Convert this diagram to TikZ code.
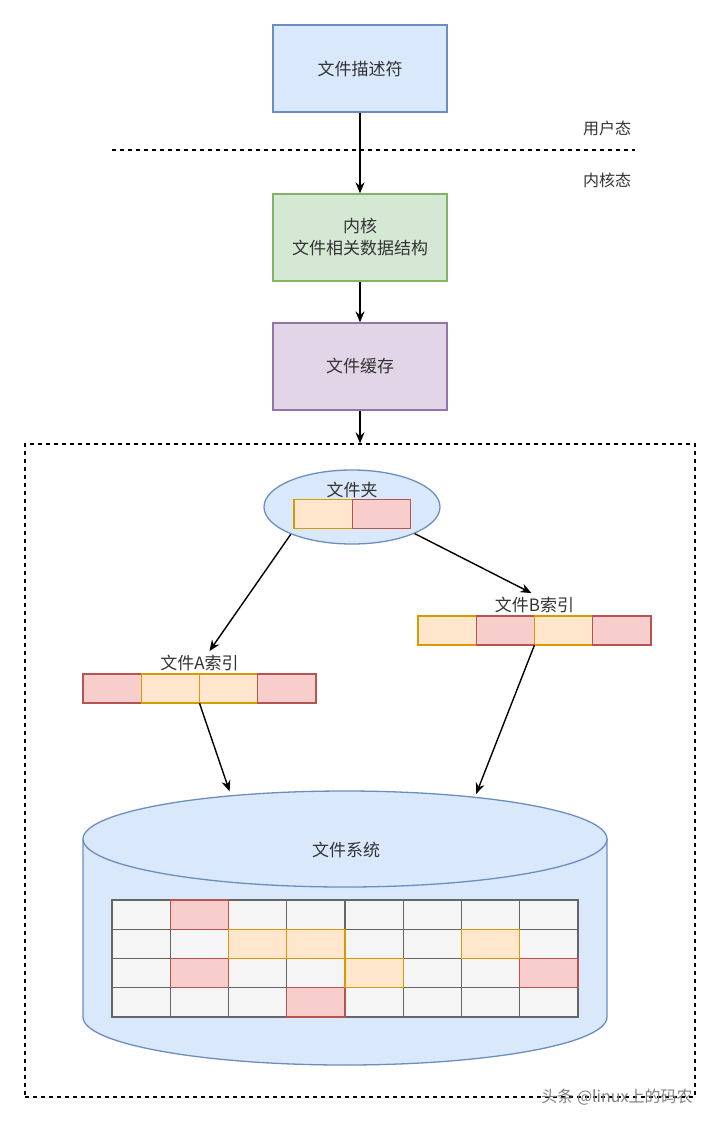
\documentclass[tikz,border=0pt]{standalone}
\usepackage{fontspec}
\setmainfont{Noto Sans CJK SC}
\usetikzlibrary{positioning, shapes.geometric, arrows.meta}

\definecolor{bluefill}{HTML}{DAE8FC}
\definecolor{blueline}{HTML}{6C8EBF}
\definecolor{greenfill}{HTML}{D5E8D4}
\definecolor{greenline}{HTML}{82B366}
\definecolor{purplefill}{HTML}{E1D5E7}
\definecolor{purpleline}{HTML}{9673A6}
\definecolor{redfill}{HTML}{F8CECC}
\definecolor{redline}{HTML}{B85450}
\definecolor{orgfill}{HTML}{FFE6CC}
\definecolor{orgline}{HTML}{D79B00}
\definecolor{grayfill}{HTML}{F5F5F5}
\definecolor{grayline}{HTML}{666666}
\definecolor{txt}{HTML}{333333}

\begin{document}
\begin{tikzpicture}[x=1pt, y=-1pt,
    >={Stealth[length=11pt, width=9pt]},
    every node/.style={font=\fontsize{17}{22}\selectfont, text=txt},
    block/.style={rectangle, line width=1.3pt, minimum width=174pt,
      minimum height=87pt, align=center},
    cell/.style={rectangle, line width=1.3pt, minimum width=58.3pt,
      minimum height=29.2pt, inner sep=0pt, outer sep=0pt},
    redcell/.style={cell, fill=redfill, draw=redline},
    orgcell/.style={cell, fill=orgfill, draw=orgline},
    link/.style={->, line width=1.4pt},
    divider/.style={dashed, dash pattern=on 4pt off 4pt, line width=1.3pt}]
  \useasboundingbox (0,0) rectangle (720,1122);

  % user space / kernel space
  \node[block, fill=bluefill, draw=blueline] (fd) at (360,68.5) {文件描述符};
  \node[block, fill=greenfill, draw=greenline] (kds) at (360,237.5) {内核\\文件相关数据结构};
  \node[block, fill=purplefill, draw=purpleline] (cache) at (360,366.5) {文件缓存};
  \coordinate (divL) at (112,150);
  \coordinate (divR) at (635,150);
  \draw[divider] (divL) -- (divR);
  \node[font=\fontsize{16}{20}\selectfont] (user) at (607,128) {用户态};
  \node[font=\fontsize{16}{20}\selectfont] (kernel) at (607,180) {内核态};

  \node[draw, divider, minimum width=670pt, minimum height=653pt,
    inner sep=0pt] (disk) at (360,770.5) {};

  \draw[link] (fd) -- (kds);
  \draw[link] (kds) -- (cache);
  \draw[link] (cache) -- (disk.north);

  % folder
  \node[ellipse, fill=bluefill, draw=blueline, line width=1.3pt,
    minimum width=176pt, minimum height=74pt] (folder) at (352,507) {};
  \node (folderlbl) at (352,490) {文件夹};
  \node[orgcell] (f1) at (323,514) {};
  \node[redcell, right=0pt of f1] (f2) {};

  % index of file A
  \node[redcell] (a1) at (112,688.5) {};
  \node[orgcell, right=0pt of a1] (a2) {};
  \node[orgcell, right=0pt of a2] (a3) {};
  \node[redcell, right=0pt of a3] (a4) {};
  \node[above=0pt of a2.north east] (alabel) {文件A索引};

  % index of file B
  \node[orgcell] (b1) at (447,630.5) {};
  \node[redcell, right=0pt of b1] (b2) {};
  \node[orgcell, right=0pt of b2] (b3) {};
  \node[redcell, right=0pt of b3] (b4) {};
  \node[above=0pt of b2.north east] (blabel) {文件B索引};

  % file system cylinder
  \fill[bluefill] (83,839) -- (83,1017)
    arc[start angle=180, end angle=360, x radius=262pt, y radius=48pt]
    -- (607,839) -- cycle;
  \draw[blueline, line width=1.3pt] (83,839) -- (83,1017)
    arc[start angle=180, end angle=360, x radius=262pt, y radius=48pt]
    -- (607,839);
  \node[ellipse, fill=bluefill, draw=blueline, line width=1.3pt,
    minimum width=524pt, minimum height=96pt, inner sep=0pt] (fs) at (345,839) {};
  \node (fslbl) at (346,850) {文件系统};

  \foreach \r in {0,...,3}
    \foreach \c in {0,...,7}
      \draw[fill=grayfill, draw=grayline, line width=1.3pt]
        (112+\c*58.25, 900+\r*29.25) rectangle ++(58.25,29.25);
  \foreach \c/\r in {1/0, 1/2, 7/2, 3/3}
    \draw[fill=redfill, draw=redline, line width=1.3pt]
      (112+\c*58.25, 900+\r*29.25) rectangle ++(58.25,29.25);
  \foreach \c/\r in {2/1, 3/1, 6/1, 4/2}
    \draw[fill=orgfill, draw=orgline, line width=1.3pt]
      (112+\c*58.25, 900+\r*29.25) rectangle ++(58.25,29.25);

  \draw[link] (folder.204) -- ([xshift=10pt]alabel.north);
  \draw[link] (folder.337) -- ([xshift=-3pt]blabel.north);
  \draw[link, shorten >=4pt] (a2.south east) -- (fs.159);
  \draw[link, shorten >=3pt] (b2.south east) -- (fs.18);

  \node[text=gray, font=\fontsize{16}{20}\selectfont] (mark) at (617,1097) {头条 @linux上的码农};
\end{tikzpicture}
\end{document}
